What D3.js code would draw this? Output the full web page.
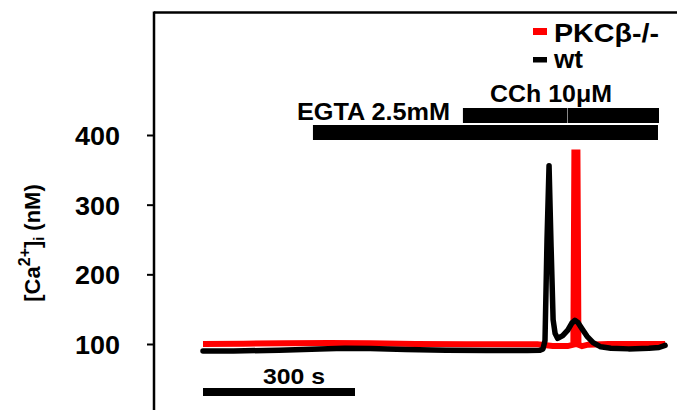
<!DOCTYPE html>
<html>
<head>
<meta charset="utf-8">
<script src="https://cdn.jsdelivr.net/npm/d3@7"></script>
<style>
  html, body { margin: 0; padding: 0; background: #fff; }
  svg { display: block; }
  text { font-family: "Liberation Sans", Arial, sans-serif; font-weight: bold; fill: #000; }
</style>
</head>
<body>
<svg id="chart" width="677" height="410"></svg>
<script>
// ---- data (time in s, [Ca2+]i in nM) ----
const yTicks = [100, 200, 300, 400];

const wtTime  = [0, 60, 150, 230, 280, 330, 400, 480, 560, 640, 665, 671, 675, 679, 683, 687, 691, 695, 700, 710, 720, 728, 734, 740, 748, 758, 770, 785, 805, 840, 880, 900, 912];
const wtCa    = [90, 90, 91, 93, 94, 93.5, 92, 91, 90.5, 90.5, 91, 93, 105, 250, 356, 240, 135, 115, 108, 112, 120, 130, 134, 131, 122, 111, 102, 96, 94, 93, 94, 95, 98];

const pkcTime = [0, 80, 160, 250, 330, 420, 520, 600, 660, 690, 720, 731, 733, 739, 741, 748, 760, 800, 860, 912];
const pkcCa   = [100, 100.5, 101, 101.5, 101, 100, 99.5, 99.5, 99.5, 97, 97, 99, 375, 375, 99, 97, 99, 100, 100, 100];

const seriesNames  = ["PKCβ-/-", "wt"];
const seriesColors = ["#ff0000", "#000000"];

const treatLabels = ["EGTA 2.5mM", "CCh 10μM"];
const treatStart  = [217, 513];
const treatEnd    = [898, 900];

const scaleBarSeconds = 300;
const scaleBarLabel = "300 s";

// ---- layout ----
const svg = d3.select("#chart");
const axisX = 154;

const x = d3.scaleLinear().domain([0, 300]).range([203, 355]);
const y = d3.scaleLinear().domain([100, 400]).range([344, 135]);

// frame: top line
svg.append("line").attr("x1", axisX).attr("x2", 677).attr("y1", 12.5).attr("y2", 12.5)
  .attr("stroke", "#000").attr("stroke-width", 2.5);

// y axis
const yAxis = d3.axisLeft(y).tickValues(yTicks).tickSize(7).tickPadding(27).tickFormat(d3.format("d"));
const gy = svg.append("g").attr("transform", `translate(${axisX},0)`).call(yAxis);
gy.select(".domain").remove();
gy.selectAll(".tick line").attr("stroke", "#000").attr("stroke-width", 2);
gy.selectAll(".tick text").attr("font-size", 26).attr("font-family", "Liberation Sans, Arial, sans-serif")
  .attr("font-weight", "bold").attr("fill", "#000").attr("dy", "0.36em")
  .attr("textLength", 45).attr("lengthAdjust", "spacingAndGlyphs");
svg.append("line").attr("x1", axisX).attr("x2", axisX).attr("y1", 11.5).attr("y2", 410)
  .attr("stroke", "#000").attr("stroke-width", 2.5);

// y label
const yl = svg.append("text")
  .attr("transform", "translate(40,243) rotate(-90)")
  .attr("text-anchor", "middle").attr("font-size", 22);
yl.append("tspan").text("[Ca");
yl.append("tspan").attr("font-size", 16).attr("dy", -10).text("2+");
yl.append("tspan").attr("dy", 10).text("]");
yl.append("tspan").attr("font-size", 14).attr("dy", 4).text("i");
yl.append("tspan").attr("dy", -4).text(" (nM)");

// traces
const line = d3.line().x(d => x(d[0])).y(d => y(d[1]));
const pkcData = d3.zip(pkcTime, pkcCa);
const wtData  = d3.zip(wtTime, wtCa);

svg.append("path").datum(pkcData).attr("d", line)
  .attr("fill", "none").attr("stroke", seriesColors[0]).attr("stroke-width", 6)
  .attr("stroke-linejoin", "miter").attr("stroke-miterlimit", 2);
svg.append("path").datum(wtData).attr("d", line)
  .attr("fill", "none").attr("stroke", seriesColors[1]).attr("stroke-width", 5.5)
  .attr("stroke-linejoin", "round").attr("stroke-linecap", "round");

// treatment bars
const barY = [125, 108];
const labelY = [120, 102];
const labelX = [297, 490];
const labelW = [153, 122];
treatLabels.forEach((lab, i) => {
  svg.append("rect").attr("x", x(treatStart[i])).attr("y", barY[i])
    .attr("width", x(treatEnd[i]) - x(treatStart[i])).attr("height", 15).attr("fill", "#000");
  svg.append("text").attr("x", labelX[i]).attr("y", labelY[i]).attr("font-size", 24)
    .attr("textLength", labelW[i]).attr("lengthAdjust", "spacingAndGlyphs").text(lab);
});
svg.append("line").attr("x1", 567.5).attr("x2", 567.5).attr("y1", 108).attr("y2", 123)
  .attr("stroke", "#888").attr("stroke-width", 1);

// legend
const legY = [28, 57];
const legH = [7, 5.5];
const legTextY = [42, 68];
const legW = [105, 29];
seriesNames.forEach((n, i) => {
  svg.append("rect").attr("x", 533).attr("y", legY[i]).attr("width", 14).attr("height", legH[i])
    .attr("fill", seriesColors[i]);
  svg.append("text").attr("x", 554).attr("y", legTextY[i]).attr("font-size", 25)
    .attr("textLength", legW[i]).attr("lengthAdjust", "spacingAndGlyphs").text(n);
});

// time scale bar
svg.append("rect").attr("x", x(0)).attr("y", 388)
  .attr("width", x(scaleBarSeconds) - x(0)).attr("height", 8).attr("fill", "#000");
svg.append("text").attr("x", 263).attr("y", 384).attr("font-size", 22)
  .attr("textLength", 62).attr("lengthAdjust", "spacingAndGlyphs").text(scaleBarLabel);
</script>
</body>
</html>
